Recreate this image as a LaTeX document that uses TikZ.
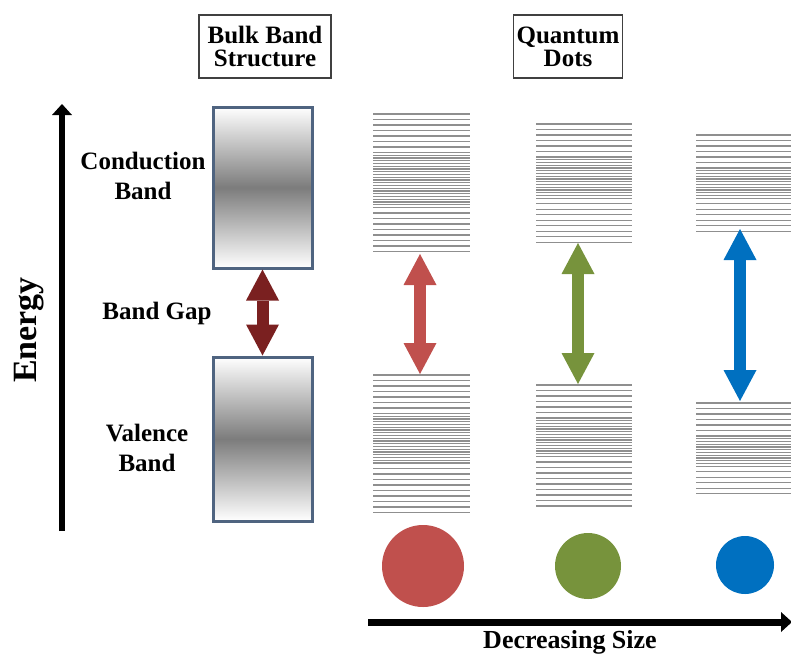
\documentclass[tikz,border=0pt]{standalone}
\usepackage{fontspec}
\setmainfont{Liberation Serif}
\usetikzlibrary{arrows.meta}

\definecolor{qdred}{HTML}{C0504D}
\definecolor{qdgreen}{HTML}{77933C}
\definecolor{qdblue}{HTML}{0070C0}
\definecolor{gapred}{HTML}{7A2020}
\definecolor{bandedge}{HTML}{4F6480}
\definecolor{levelgray}{HTML}{8F8F8F}
\definecolor{bandgray}{HTML}{7C7C7C}

\tikzset{
    level/.style={draw=levelgray, line width=1.3pt},
    band/.style={draw=bandedge, line width=3pt, minimum width=99pt,
        top color=white, bottom color=white, middle color=bandgray},
    gap/.style={line width=12pt,
        {Triangle[length=31pt,width=33pt,line width=0pt]}-{Triangle[length=31pt,width=33pt,line width=0pt]}},
    axis/.style={line width=6pt, -{Triangle[length=11pt,width=20pt,line width=0pt]}}
}

% one stack of levels: x left, x right, y top, sparse, dense, sparse
\newcommand{\levelstack}[6]{%
    \foreach \i in {1,...,#4}
        \draw[level] (#1,{#3+(\i-1)*5.5}) -- (#2,{#3+(\i-1)*5.5});
    \foreach \i in {1,...,#5}
        \draw[level] (#1,{#3+#4*5.5+(\i-1)*2.75}) -- (#2,{#3+#4*5.5+(\i-1)*2.75});
    \foreach \i in {1,...,#6}
        \draw[level] (#1,{#3+#4*5.5+(#5-1)*2.75+\i*5.5}) -- (#2,{#3+#4*5.5+(#5-1)*2.75+\i*5.5});
}

\begin{document}
\begin{tikzpicture}[x=1pt, y=-1pt]
    \useasboundingbox (0,0) rectangle (791,656);

    \begin{scope}[every node/.style={draw=black!75, line width=1.2pt, align=center,
            minimum height=63pt, font=\bfseries\fontsize{25}{23}\selectfont}]
        \node[minimum width=132pt] (bulk) at (265,46.5) {Bulk Band\\Structure};
        \node (qd) at (568,46.5) {Quantum\\Dots};
    \end{scope}

    \begin{scope}[every node/.style={align=center, font=\bfseries\fontsize{25}{30}\selectfont}]
        \node (cond) at (143,176) {Conduction\\Band};
        \node (gaplbl) at (157,313) {Band Gap};
        \node (val) at (147,448) {Valence\\Band};
        \node[rotate=90, font=\bfseries\fontsize{34}{40}\selectfont] (energy) at (29,330) {Energy};
        \node[anchor=base, font=\bfseries\fontsize{26}{30}\selectfont] (size) at (570,648) {Decreasing Size};
    \end{scope}

    % bulk bands
    \node[band, minimum height=161pt] (cb) at (262.5,187.5) {};
    \node[band, minimum height=164pt] (vb) at (262.5,439) {};
    \path (cb.south) edge[gap, draw=gapred, fill=gapred] (vb.north);

    % quantum dot levels
    \levelstack{373}{470}{114}{7}{21}{8}
    \levelstack{373}{470}{375}{7}{19}{9}
    \levelstack{536}{632}{124}{6}{16}{8}
    \levelstack{536}{632}{385}{6}{15}{9}
    \levelstack{696}{791}{135}{6}{12}{6}
    \levelstack{696}{791}{403}{6}{12}{5}

    \coordinate (r0) at (420,254);
    \coordinate (r1) at (420,374);
    \coordinate (g0) at (578,243);
    \coordinate (g1) at (578,384);
    \coordinate (b0) at (740,229);
    \coordinate (b1) at (740,401);
    \begin{scope}[every edge/.style={draw, gap}]
        \path (r0) edge[draw=qdred, fill=qdred] (r1);
        \path (g0) edge[draw=qdgreen, fill=qdgreen] (g1);
        \path (b0) edge[draw=qdblue, fill=qdblue] (b1);
    \end{scope}

    % dots
    \begin{scope}[every node/.style={circle, inner sep=0pt}]
        \node[fill=qdred, minimum size=82pt] (dotr) at (423,566) {};
        \node[fill=qdgreen, minimum size=66pt] (dotg) at (588,566) {};
        \node[fill=qdblue, minimum size=58pt] (dotb) at (745,565) {};
    \end{scope}

    % axes
    \coordinate (e0) at (62,531);
    \coordinate (e1) at (62,104);
    \draw[axis] (e0) -- (e1);
    \coordinate (s0) at (368,622);
    \coordinate (s1) at (792,622);
    \draw[axis, line width=7pt] (s0) -- (s1);
\end{tikzpicture}
\end{document}
